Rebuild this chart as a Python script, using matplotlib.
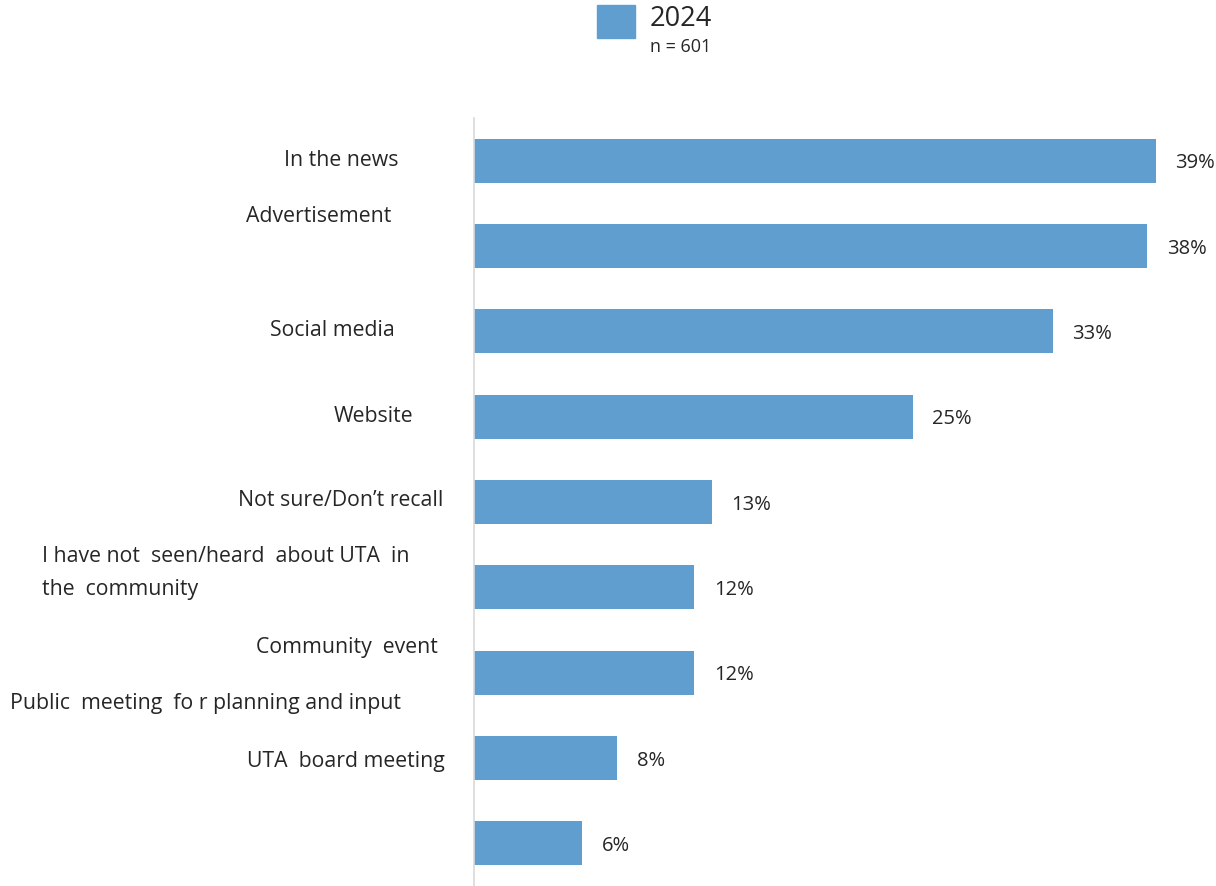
import matplotlib.pyplot as plt

# values (bar lengths in percent, labels as printed)
values = [39.0, 38.5, 33.1, 25.1, 13.6, 12.6, 12.6, 8.2, 6.2]
value_labels = ['39%', '38%', '33%', '25%', '13%', '12%', '12%', '8%', '6%']
categories = ['In the news', 'Advertisement', 'Social media', 'Website',
              'Not sure/Don\u2019t recall',
              'I have not  seen/heard  about UTA  in\nthe  community',
              'Community  event', 'Public  meeting  fo r planning and input',
              'UTA  board meeting']
series_name = '2024'
sample_note = 'n = 601'

bar_color = '#5f9ecf'
text_color = '#262626'
plt.rcParams['font.family'] = ['Open Sans', 'DejaVu Sans']

W, H = 1216, 886
fig = plt.figure(figsize=(W / 100, H / 100), dpi=100)
ax = fig.add_axes([474 / W, 0, (W - 474) / W, 768 / H])

pos = list(range(len(values)))
ax.barh(pos, values, height=0.515, color=bar_color)
ax.set_xlim(0, (W - 474) / 17.49)
ax.set_ylim(len(values) - 0.5, -0.5)

for p, v, lab in zip(pos, values, value_labels):
    ax.annotate(lab, (v, p), xytext=(14, -2), textcoords='offset points',
                va='center', ha='left', fontsize=14.5, color=text_color,
                annotation_clip=False)

for s in ['top', 'right', 'bottom']:
    ax.spines[s].set_visible(False)
ax.spines['left'].set_color('#d9d9d9')
ax.spines['left'].set_linewidth(1.2)
ax.set_xticks([])
ax.set_yticks([])

# category labels, placed where they sit in the original layout (pixels)
label_spots = [(398, 161, 'right'), (391, 217, 'right'), (395, 331, 'right'),
               (413, 416, 'right'), (443, 501, 'right'), (42, 573, 'left'),
               (438, 648, 'right'), (401, 703, 'right'), (445, 761, 'right')]
for (x, y, ha), txt in zip(label_spots, categories):
    fig.text(x / W, 1 - y / H, txt, ha=ha, va='center', fontsize=15.3,
             color=text_color, linespacing=1.75)

# legend
fig.patches.append(plt.Rectangle((597 / W, 1 - 38 / H), 38 / W, 33 / H,
                                 transform=fig.transFigure, color=bar_color))
fig.text(650 / W, 1 - 19 / H, series_name, ha='left', va='center',
         fontsize=19.5, color=text_color)
fig.text(650 / W, 1 - 47 / H, sample_note, ha='left', va='center',
         fontsize=13, color=text_color)

fig.savefig('out.png', dpi=100)
